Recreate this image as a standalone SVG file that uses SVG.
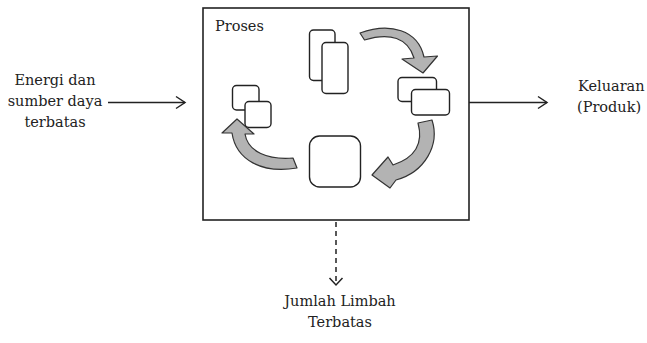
<svg xmlns="http://www.w3.org/2000/svg" width="647" height="343" viewBox="0 0 647 343">
<style>
.t{font-family:"DejaVu Serif","Liberation Serif",serif;font-size:14.5px;fill:#222}
.box{fill:#fff;stroke:#222;stroke-width:1.6}
.card{fill:#fff;stroke:#222;stroke-width:1.4}
.ga{fill:#b3b3b3;stroke:#333;stroke-width:1.2;stroke-linejoin:round}
.ln{fill:none;stroke:#222;stroke-width:1.5}
</style>
<rect width="647" height="343" fill="#fff"/>
<g id="proses">
<rect class="box" x="203" y="8" width="266" height="212"/>
<text class="t" x="215" y="31">Proses</text>
<g id="cards-top">
<rect class="card" x="309.5" y="30" width="25.5" height="50.5" rx="4"/>
<rect class="card" x="322" y="42.5" width="26" height="51" rx="4"/>
</g>
<g id="cards-right">
<rect class="card" x="398" y="77.5" width="38.5" height="24" rx="4"/>
<rect class="card" x="411.5" y="89.5" width="38" height="25.5" rx="4"/>
</g>
<g id="cards-left">
<rect class="card" x="232.5" y="85.5" width="26.5" height="24.5" rx="4"/>
<rect class="card" x="245" y="101.5" width="26" height="26" rx="4"/>
</g>
<g id="card-bottom">
<rect class="card" x="309.5" y="136" width="51" height="51" rx="10"/>
</g>
<g id="cycle">
<path class="ga" d="M360,33 C390,22 418,30 424,57 L437.5,56 L423,73 L402,59 L414,58 C408,38 390,32 364.5,40 Z"/>
<path class="ga" d="M418,123 L432,120 C440,145 425,172 396,180 L390,188 L372,175 L388,157 L393,165 C414,158 424,145 418,123 Z"/>
<path class="ga" d="M293,158 L297,168 C262,174 236,160 232,133 L222,133 L237,119 L254,134 L245,134 C248,152 268,160 293,158 Z"/>
</g>
</g>
<g id="connectors">
<line class="ln" x1="108" y1="102.5" x2="185" y2="102.5"/>
<polyline class="ln" points="176,96.5 185,102.5 176,108.5"/>
<line class="ln" x1="469" y1="102.5" x2="547" y2="102.5"/>
<polyline class="ln" points="538,96.5 547,102.5 538,108.5"/>
<line class="ln" x1="336" y1="222" x2="336" y2="284" stroke-dasharray="5,4"/>
<polyline class="ln" points="329.5,278 336,285 342.5,278"/>
</g>
<g id="input">
<text class="t" text-anchor="middle" x="55" y="85">Energi dan</text>
<text class="t" text-anchor="middle" x="55" y="106">sumber daya</text>
<text class="t" text-anchor="middle" x="55" y="127">terbatas</text>
</g>
<g id="output">
<text class="t" x="578" y="91">Keluaran</text>
<text class="t" x="577" y="112">(Produk)</text>
</g>
<g id="waste">
<text class="t" text-anchor="middle" x="340" y="306">Jumlah Limbah</text>
<text class="t" text-anchor="middle" x="340" y="327">Terbatas</text>
</g>
</svg>
